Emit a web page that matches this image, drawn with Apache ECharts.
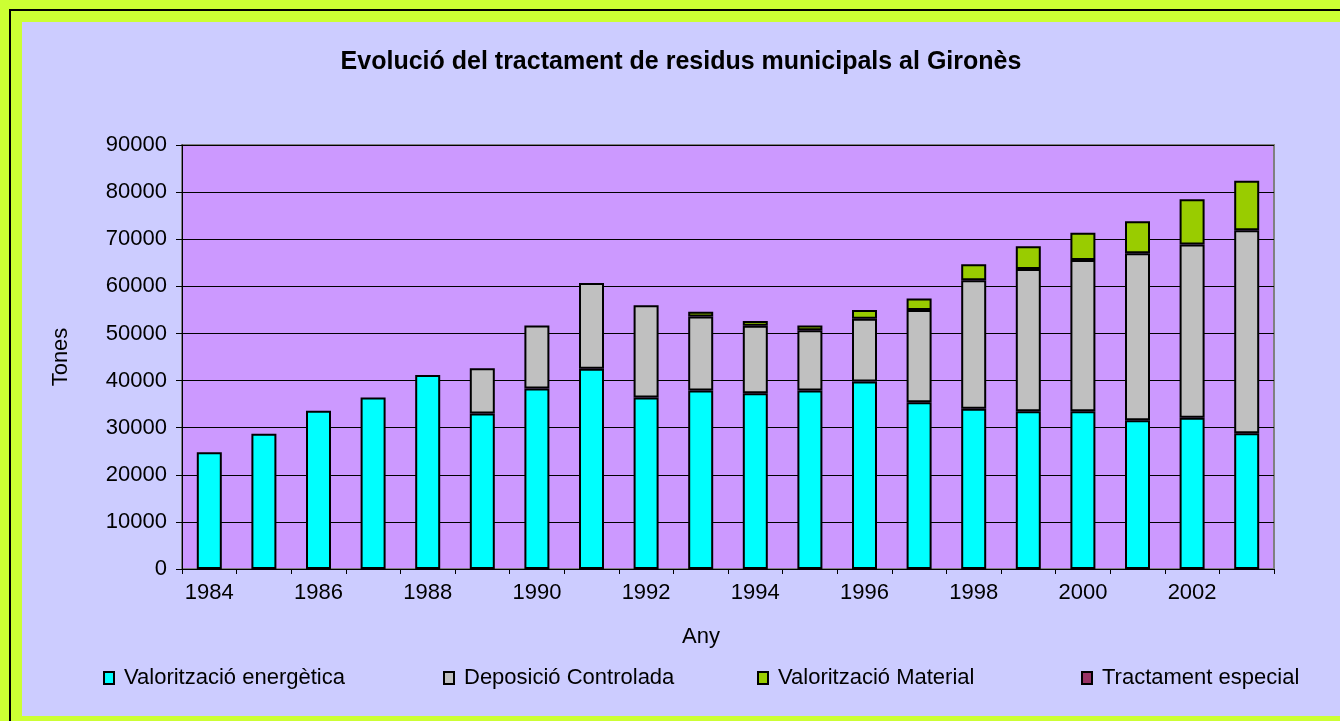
<!DOCTYPE html>
<html>
<head>
<meta charset="utf-8">
<script src="https://cdn.jsdelivr.net/npm/echarts@6/dist/echarts.min.js"></script>
<style>
html,body{margin:0;padding:0;width:1340px;height:721px;background:#CCFF33;overflow:hidden;}
#frame{position:absolute;left:9px;top:9px;width:1331px;height:712px;border-left:2px solid #000;border-top:2px solid #000;}
#chart{position:absolute;left:22px;top:22px;width:1318px;height:694px;background:#CCCCFF;}
</style>
</head>
<body>
<div id="frame"></div>
<div id="chart"></div>
<script>
var titleText = 'Evolució del tractament de residus municipals al Gironès';
var years = ['1984','1985','1986','1987','1988','1989','1990','1991','1992','1993','1994','1995','1996','1997','1998','1999','2000','2001','2002','2003'];
var seriesNames = ['Valorització energètica','Deposició Controlada','Valorització Material','Tractament especial'];
var valoritzacioEnergetica = [24800, 28700, 33600, 36400, 41200, 33000, 38300, 42500, 36400, 37900, 37300, 37900, 39800, 35400, 34000, 33500, 33500, 31600, 32100, 28800];
var deposicioControlada = [null, null, null, null, null, 9600, 13400, 18200, 19600, 15700, 14350, 12800, 13300, 19600, 27300, 30200, 32100, 35400, 36800, 43100];
var valoritzacioMaterial = [null, null, null, null, null, null, null, null, null, 1000, 1000, 1000, 1900, 2400, 3400, 4800, 5800, 6800, 9600, 10500];
var tractamentEspecial = [null, null, null, null, null, null, null, null, null, null, null, null, null, null, null, null, null, null, null, null];
var colors = ['#00FFFF', '#C0C0C0', '#99CC00', '#993366'];
var yAxisName = 'Tones';
var xAxisName = 'Any';

var font = '"Liberation Sans", Arial, sans-serif';
var chart = echarts.init(document.getElementById('chart'));
var dataArr = [valoritzacioEnergetica, deposicioControlada, valoritzacioMaterial, tractamentEspecial];
var legendLefts = [81, 421, 735, 1059];
var series = seriesNames.map(function(n, i){
  return {
    name: n, type: 'bar', stack: 'total', data: dataArr[i], barWidth: 25,
    itemStyle: {color: colors[i], borderColor: '#000', borderWidth: 2},
    emphasis: {disabled: true}
  };
});
var legends = seriesNames.map(function(n, i){
  return {
    data: [n], left: legendLefts[i], top: 645, icon: 'rect', padding: 0,
    itemWidth: 10, itemHeight: 12,
    textStyle: {fontFamily: font, fontSize: 22, color: '#000', padding: [0,0,0,5]},
    selectedMode: false
  };
});
chart.setOption({
  animation: false,
  textStyle: {fontFamily: font},
  title: {text: titleText, left: 'center', top: 23,
    textStyle: {fontFamily: font, fontSize: 25, fontWeight: 'bold', color: '#000'}},
  legend: legends,
  grid: {left: 160, right: 66, top: 123, bottom: 147, show: true,
    backgroundColor: '#CC99FF', borderColor: '#808080', borderWidth: 2},
  xAxis: {
    type: 'category', data: years, boundaryGap: true,
    name: xAxisName, nameLocation: 'middle', nameGap: 57,
    nameTextStyle: {fontFamily: font, fontSize: 22, color: '#000', padding: [0, 54, 0, 0]},
    axisLine: {lineStyle: {color: '#000', width: 1}},
    axisTick: {show: true, interval: 0, length: 5, lineStyle: {color: '#000'}},
    axisLabel: {interval: 1, fontFamily: font, fontSize: 22, color: '#000', margin: 13}
  },
  yAxis: {
    type: 'value', min: 0, max: 90000, interval: 10000,
    name: yAxisName, nameLocation: 'middle', nameGap: 110, nameRotate: 90,
    nameTextStyle: {fontFamily: font, fontSize: 22, color: '#000'},
    axisLine: {show: true, lineStyle: {color: '#000', width: 1}},
    axisTick: {show: true, length: 6, lineStyle: {color: '#000'}},
    axisLabel: {fontFamily: font, fontSize: 22, color: '#000', margin: 15,
      formatter: function(v){ return String(v); }},
    splitLine: {show: true, lineStyle: {color: '#000', width: 1}}
  },
  series: series
});
</script>
</body>
</html>
